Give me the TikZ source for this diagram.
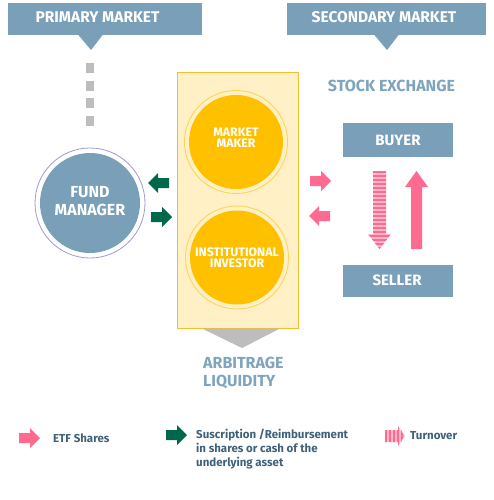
\documentclass[tikz,border=0pt]{standalone}
\usepackage{fontspec}
\setmainfont{Fira Sans}
\usetikzlibrary{calc}
\definecolor{bannerblue}{HTML}{7A9FB8}
\definecolor{textblue}{HTML}{7FA4BE}
\definecolor{legtext}{HTML}{3F627A}
\definecolor{dgreen}{HTML}{00684A}
\definecolor{pinkc}{HTML}{FF6A90}
\definecolor{lpink}{HTML}{FFB8CA}
\definecolor{yellowc}{HTML}{FFC000}
\definecolor{cream}{HTML}{FFF0C6}
\definecolor{boxborder}{HTML}{F5BE2E}
\definecolor{ringc}{HTML}{FFD45A}
\definecolor{fundring}{HTML}{9C9CD0}
\definecolor{greyc}{HTML}{BDBDBD}
\begin{document}
\begin{tikzpicture}[x=1pt,y=-1pt,
  banner/.style={fill=bannerblue, inner sep=0pt},
  bantext/.style={text=white, font=\fontsize{15.5}{17}\selectfont\bfseries, inner sep=0pt},
  headtext/.style={text=textblue, font=\fontsize{16}{18}\selectfont\bfseries, inner sep=0pt, align=left},
  boxtext/.style={text=white, font=\fontsize{15}{16}\selectfont\bfseries, inner sep=0pt},
  circtext/.style={text=white, font=\fontsize{12.3}{11.5}\selectfont\bfseries, inner sep=0pt, align=center},
  legendtext/.style={text=legtext, font=\fontsize{11.5}{14}\selectfont\bfseries, inner sep=0pt, align=left, anchor=west},
  yring/.style={draw=ringc, line width=0.9pt},
  barrow/.pic={\path[pic actions] (0,-5) -- (11,-5) -- (11,-10) -- (21,0) -- (11,10) -- (11,5) -- (0,5) -- cycle;}
]
\useasboundingbox[fill=white] (0,0) rectangle (494,500);

% banners
\node[banner, minimum width=194pt, minimum height=32pt] (pm) at (105,19) {};
\fill[bannerblue] (78,34.5) -- (103,34.5) -- (91,50) -- cycle;
\node[bantext] (pmt) at (97.5,17) {PRIMARY MARKET};
\node[banner, minimum width=199pt, minimum height=32pt] (sm) at (386.5,19) {};
\fill[bannerblue] (374,34.5) -- (399,34.5) -- (387,50) -- cycle;
\node[bantext] (smt) at (384,17) {SECONDARY MARKET};

% dotted grey link
\coordinate (dtop) at (90,63);
\coordinate (dbot) at (90,128);
\draw[greyc, line width=8pt, dash pattern=on 10pt off 7.7pt] (dtop) -- (dbot);

% fund manager
\node[circle, fill=bannerblue, minimum size=100pt, inner sep=0pt] (fm) at (90,203) {};
\draw[fundring, line width=0.8pt] (fm.center) circle[radius=55];
\node[circtext, font=\fontsize{16}{18}\selectfont\bfseries] (fmt) at (90,201) {FUND\\MANAGER};

% central box
\node[fill=cream, draw=boxborder, line width=1pt, minimum width=121pt, minimum height=255pt, inner sep=0pt] (box) at (237.5,200.5) {};
\fill[greyc] (202,328.5) -- (280,328.5) -- (242,348) -- cycle;

\node[circle, fill=yellowc, minimum size=94pt, inner sep=0pt] (mm) at (236,142) {};
\draw[yring] (mm.center) circle[radius=51.5];
\node[circtext] (mmt) at (236,137.5) {MARKET\\MAKER};

\node[circle, fill=yellowc, minimum size=94pt, inner sep=0pt] (ii) at (237,257.5) {};
\draw[yring] (ii.center) circle[radius=51.5];
\node[circtext] (iit) at (237,257.5) {INSTITUTIONAL\\INVESTOR};

\node[headtext, anchor=west] (arb) at (203,373) {ARBITRAGE\\LIQUIDITY};

% green arrows
\pic[fill=dgreen, rotate=180] at (169,183) {barrow};
\pic[fill=dgreen] at (151,217) {barrow};

% pink arrows
\pic[fill=pinkc] at (310,181) {barrow};
\pic[fill=pinkc, rotate=180] at (330,216) {barrow};

% stock exchange
\node[headtext] (se) at (391.5,86) {STOCK EXCHANGE};
\node[banner, minimum width=110pt, minimum height=34pt] (buyer) at (398,140) {};
\node[boxtext] (buyert) at (398,140) {BUYER};
\node[banner, minimum width=110pt, minimum height=32pt] (seller) at (398,281) {};
\node[boxtext] (sellert) at (397,280) {SELLER};

% striped down arrow
\fill[lpink] (373,171) -- (386,171) -- (386,234) -- (391,234) -- (379.5,249) -- (368,234) -- (373,234) -- cycle;
\begin{scope}
\clip (373,171) -- (386,171) -- (386,234) -- (391,234) -- (379.5,249) -- (368,234) -- (373,234) -- cycle;
\foreach \yy in {172,176,...,250} \draw[pinkc, line width=2pt] (360,\yy) -- (400,\yy);
\end{scope}
% solid up arrow
\fill[pinkc] (411,249) -- (422,249) -- (422,187) -- (428,187) -- (416.5,171) -- (405,187) -- (411,187) -- cycle;

% legend
\pic[fill=pinkc] at (19,438) {barrow};
\node[legendtext] (l1) at (53,438) {ETF Shares};
\pic[fill=dgreen] at (166,435) {barrow};
\node[legendtext, anchor=north west] (l2) at (196,429) {Suscription /Reimbursement\\in shares or cash of the\\underlying asset};
\fill[lpink] (385,430) -- (398,430) -- (398,426) -- (405,436) -- (398,446) -- (398,442) -- (385,442) -- cycle;
\begin{scope}
\clip (385,430) -- (398,430) -- (398,426) -- (405,436) -- (398,446) -- (398,442) -- (385,442) -- cycle;
\foreach \xx in {386,390,...,406} \draw[pinkc, line width=2pt] (\xx,420) -- (\xx,450);
\end{scope}
\node[legendtext] (l3) at (410,436) {Turnover};
\end{tikzpicture}
\end{document}
